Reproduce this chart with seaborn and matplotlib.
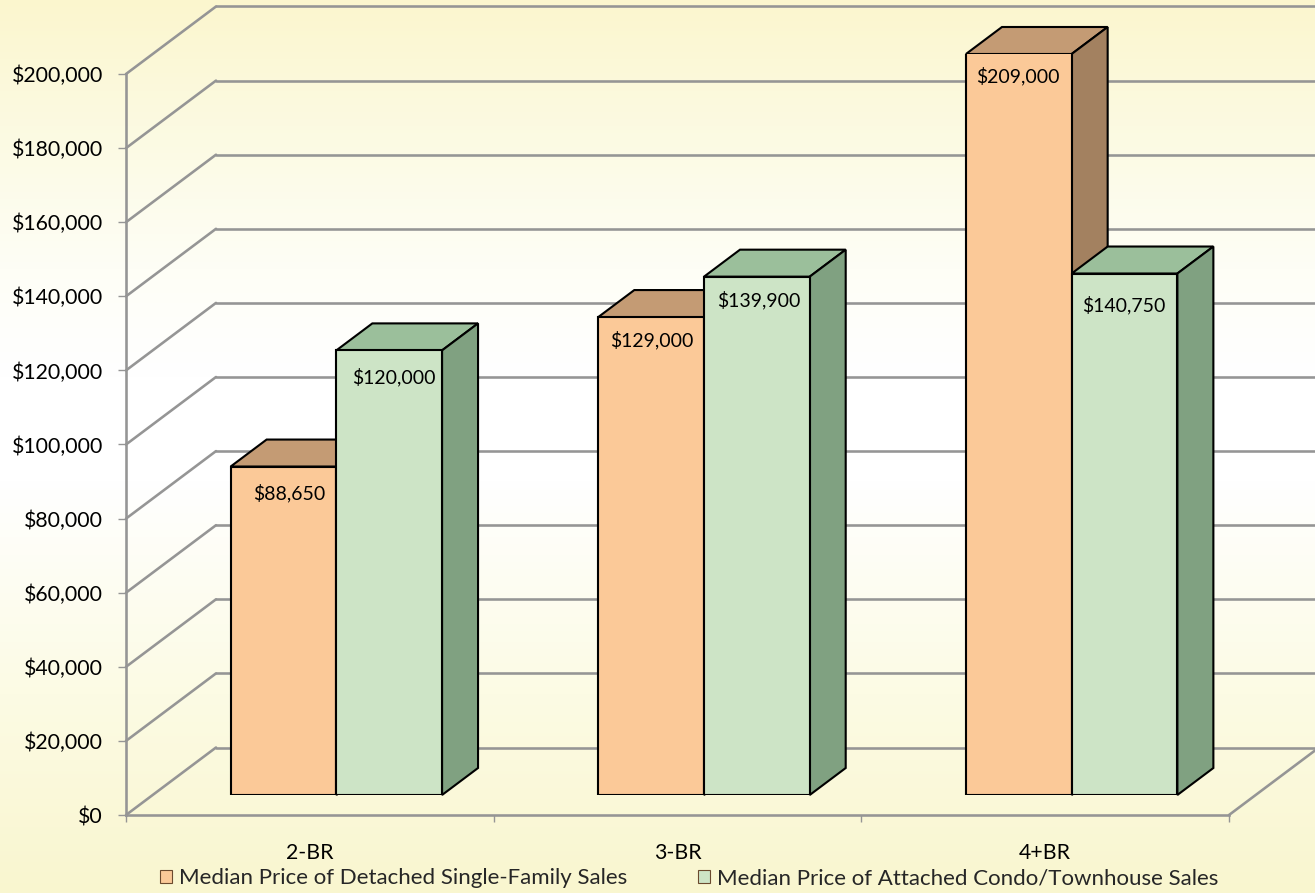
import numpy as np
import pandas as pd
import seaborn as sns
import matplotlib
matplotlib.use("Agg")
import matplotlib.pyplot as plt
from matplotlib.colors import LinearSegmentedColormap
from matplotlib.lines import Line2D
from matplotlib.patches import Polygon
from matplotlib.ticker import StrMethodFormatter
from matplotlib.transforms import IdentityTransform

categories = ["2-BR", "3-BR", "4+BR"]
detached = [88650, 129000, 209000]
attached = [120000, 139900, 140750]
series_names = ["Median Price of Detached Single-Family Sales",
                "Median Price of Attached Condo/Townhouse Sales"]
y_ticks = list(range(0, 200001, 20000))

# style tables
FRONT = ["#FBC998", "#CDE4C6"]
TOP = ["#C49B74", "#9BBF9B"]
SIDE = ["#A38160", "#80A181"]
GRID = "#959595"
# hand placement of the data labels (pixels from bar top centre)
label_dx = [6, 1, -1, 5, 2, -1]
label_dy = [27, 23, 22, 27, 23, 32]

W, H = 1315, 893
DPI = 100
sns.set_theme(style="white")
plt.rcParams["font.family"] = ["Lato", "DejaVu Sans"]
plt.rcParams["axes.unicode_minus"] = False

fig = plt.figure(figsize=(W / DPI, H / DPI), dpi=DPI)


def rect(left, top, right, bottom):
    return [left / W, 1 - bottom / H, (right - left) / W, (bottom - top) / H]


# background gradient
bg = fig.add_axes([0, 0, 1, 1], zorder=0)
cmap = LinearSegmentedColormap.from_list(
    "bg", [(0, "#FBF6CE"), (0.10, "#FBF9DC"), (0.30, "#FEFEF6"), (0.42, "#FFFFFF"),
           (0.54, "#FFFFFF"), (0.78, "#FCFBE4"), (1, "#F9F6CF")])
bg.imshow(np.linspace(0, 1, 256)[:, None], aspect="auto", cmap=cmap, vmin=0, vmax=1)
bg.axis("off")

# geometry
AX_L, AX_R, AX_T, AX_B = 126, 1229, 74, 815
BACK_DX, BACK_DY = 90, 67.5
BAR_DX, BAR_DY = 26.5, 20
DEPTH_DX, DEPTH_DY = 36, 27
GRID_LW = 2.6 * 0.72
EDGE_LW = 2.1 * 0.72

XLIM = (-0.5, 2.5)
YLIM = (0, 200000)

# back wall with gridlines
wall = fig.add_axes(rect(AX_L + BACK_DX, AX_T - BACK_DY, AX_R + BACK_DX, AX_B - BACK_DY), zorder=1)
wall.patch.set_alpha(0)
wall.set_xlim(XLIM)
wall.set_ylim(YLIM)
wall.set_yticks(y_ticks)
wall.set_xticks([])
wall.tick_params(left=False, labelleft=False)
wall.grid(axis="y", color=GRID, lw=GRID_LW)
wall.set_axisbelow(True)
for s in wall.spines.values():
    s.set_visible(False)
for gl in wall.get_ygridlines():
    gl.set_clip_on(False)

# front frame with axis ticks and labels
ax = fig.add_axes(rect(AX_L, AX_T, AX_R, AX_B), zorder=2)
ax.patch.set_alpha(0)
ax.set_xlim(XLIM)
ax.set_ylim(YLIM)
ax.set_yticks(y_ticks)
ax.yaxis.set_major_formatter(StrMethodFormatter("${x:,.0f}"))
ax.set_xticks(range(len(categories)), categories)
ax.set_xticks(np.arange(XLIM[0], XLIM[1] + 0.5), minor=True)
for s in ["top", "right"]:
    ax.spines[s].set_visible(False)
for s in ["left", "bottom"]:
    ax.spines[s].set_color(GRID)
    ax.spines[s].set_linewidth(GRID_LW)
ax.tick_params(axis="y", length=8 * 0.72, width=1, color=GRID, pad=15 * 0.72,
               labelsize=15.3, labelcolor="black", left=True)
ax.tick_params(axis="x", which="major", length=0, pad=28 * 0.72, labelsize=15.3, labelcolor="black")
ax.tick_params(axis="x", which="minor", length=7 * 0.72, width=1, color=GRID, bottom=True)

# depth lines joining the front axis to the wall
for v in y_ticks:
    x0, y0 = ax.transData.transform((XLIM[0], v))
    ax.add_line(Line2D([x0, x0 + BACK_DX], [y0, y0 + BACK_DY], color=GRID, lw=GRID_LW,
                       transform=IdentityTransform(), clip_on=False))
x0, y0 = ax.transData.transform((XLIM[1], 0))
ax.add_line(Line2D([x0, x0 + BACK_DX], [y0, y0 + BACK_DY], color=GRID, lw=GRID_LW,
                   transform=IdentityTransform(), clip_on=False))

# bars
df = pd.DataFrame({
    "category": categories * 2,
    "price": detached + attached,
    "series": [series_names[0]] * 3 + [series_names[1]] * 3,
})
bar_ax = fig.add_axes(rect(AX_L + BAR_DX, AX_T - BAR_DY, AX_R + BAR_DX, AX_B - BAR_DY), zorder=3)
bar_ax.patch.set_alpha(0)
sns.barplot(data=df, x="category", y="price", hue="series", hue_order=series_names,
            palette=FRONT, width=0.575, gap=0, saturation=1, errorbar=None, ax=bar_ax,
            edgecolor="black", linewidth=EDGE_LW)
bar_ax.set_xlim(XLIM)
bar_ax.set_ylim(YLIM)
handles, labels = bar_ax.get_legend_handles_labels()
bar_ax.get_legend().remove()

bars = []
for s_i, cont in enumerate(bar_ax.containers):
    for b in cont:
        bars.append((b, s_i))
bars.sort(key=lambda t: t[0].get_x())

for order, (b, s_i) in enumerate(bars):
    z = 3 + order
    b.set_zorder(z + 0.5)
    val = min(b.get_height(), YLIM[1])
    xl, yt = bar_ax.transData.transform((b.get_x(), val))
    xr, yb = bar_ax.transData.transform((b.get_x() + b.get_width(), 0))
    top = [(xl, yt), (xr, yt), (xr + DEPTH_DX, yt + DEPTH_DY), (xl + DEPTH_DX, yt + DEPTH_DY)]
    side = [(xr, yb), (xr + DEPTH_DX, yb + DEPTH_DY), (xr + DEPTH_DX, yt + DEPTH_DY), (xr, yt)]
    for pts, col in ((top, TOP[s_i]), (side, SIDE[s_i])):
        bar_ax.add_patch(Polygon(pts, closed=True, facecolor=col, edgecolor="black",
                                 lw=EDGE_LW, transform=IdentityTransform(),
                                 clip_on=False, zorder=z))
    # true value labels
    src = detached if s_i == 0 else attached
    cat = int(round(b.get_x() + b.get_width() / 2 - (-b.get_width() / 2 if s_i == 0 else b.get_width() / 2)))
    idx = s_i * 3 + cat
    bar_ax.annotate(f"${src[cat]:,.0f}", xy=(b.get_x() + b.get_width() / 2, val),
                    xytext=(label_dx[idx], -label_dy[idx]), textcoords="offset pixels",
                    ha="center", va="center", fontsize=14, color="black", zorder=50,
                    annotation_clip=False)
bar_ax.axis("off")

leg = fig.legend(handles, labels, ncols=2, loc="center", bbox_to_anchor=(689 / W, 1 - 878.5 / H),
                 frameon=False, fontsize=16, handlelength=0.54, handleheight=0.54,
                 handletextpad=0.3, columnspacing=3.2, borderpad=0, borderaxespad=0)
for h, c in zip(leg.legend_handles, FRONT):
    h.set_facecolor(c)
    h.set_edgecolor("#6B4A2E")
    h.set_linewidth(0.8)
leg.set_zorder(60)

fig.savefig("out.png", dpi=DPI)
